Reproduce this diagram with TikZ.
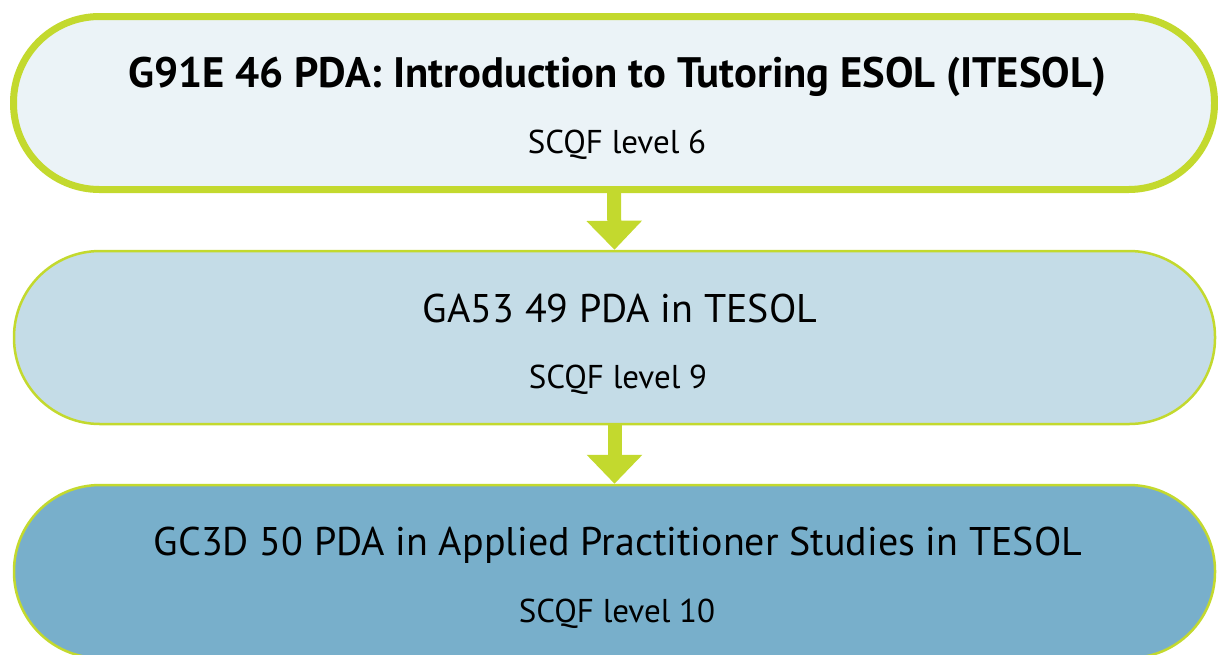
\documentclass[tikz,border=0pt]{standalone}
\usepackage{fontspec}
\setmainfont{PT Sans}
\usetikzlibrary{arrows.meta}
\definecolor{limecol}{RGB}{195,217,46}
\definecolor{palecol}{RGB}{235,243,247}
\definecolor{midcol}{RGB}{196,220,231}
\definecolor{deepcol}{RGB}{120,175,203}
\tikzset{
  stage/.style={rectangle, rounded corners=43pt, draw=limecol, minimum width=600.5pt, minimum height=86.5pt, inner sep=0pt},
  flow/.style={draw=limecol, line width=7pt, -{Triangle[width=27pt,length=14.5pt]}},
  unitname/.style={anchor=base, inner sep=0pt, font=\fontsize{20}{24}\selectfont},
  unitlevel/.style={anchor=base, inner sep=0pt, font=\fontsize{16.5}{20}\selectfont}
}

\begin{document}
\begin{tikzpicture}[x=0.5pt,y=-0.5pt]
\clip (0,0) rectangle (1218,654);
\useasboundingbox (0,0) rectangle (1218,654);

% the three awards
\node[stage, line width=3.5pt, fill=palecol] (itesol) at (614,103) {};
\node[stage, line width=1.25pt, fill=midcol] (tesol) at (614.5,337.5) {};
\node[stage, line width=1.25pt, fill=deepcol] (apst) at (614.5,571.5) {};

\node[unitname, font=\fontsize{21.3}{24}\selectfont\bfseries] (itesolname) at (617,87) {G91E 46 PDA: Introduction to Tutoring ESOL (ITESOL)};
\node[unitlevel] (itesollevel) at (617,153) {SCQF level 6};
\node[unitname] (tesolname) at (620,322) {GA53 49 PDA in TESOL};
\node[unitlevel] (tesollevel) at (618,388) {SCQF level 9};
\node[unitname] (apstname) at (618,555) {GC3D 50 PDA in Applied Practitioner Studies in TESOL};
\node[unitlevel] (apstlevel) at (617,622) {SCQF level 10};

% progression
\draw[flow] (itesol.south) -- (tesol.north);
\draw[flow] (tesol.south) -- (apst.north);

\end{tikzpicture}
\end{document}
